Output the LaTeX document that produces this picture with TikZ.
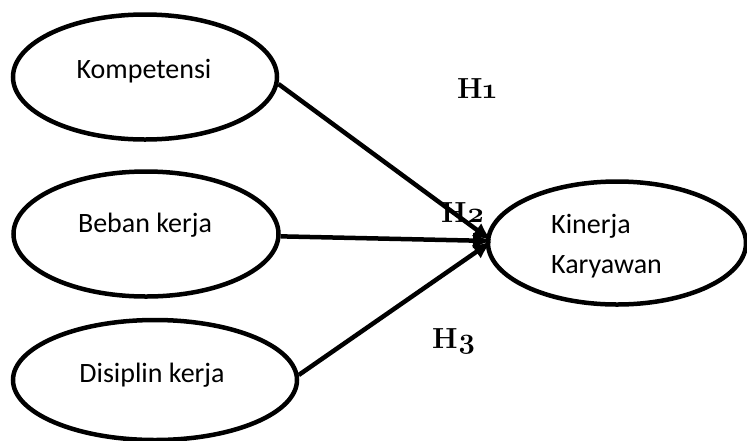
\RequirePackage{fix-cm}
\documentclass[tikz,border=0pt]{standalone}
\usepackage{fontspec}
\setmainfont{Carlito}
\newfontfamily\lmrfont{Latin Modern Roman}
\usetikzlibrary{shapes.geometric,arrows.meta}
\begin{document}
\begin{tikzpicture}[x=1pt,y=-1pt,
  oval/.style={draw=black,line width=4.5pt,ellipse,inner sep=0pt},
  lbl/.style={font=\fontsize{28}{40}\selectfont,inner sep=0pt,anchor=base},
  hyp/.style={font=\fontsize{29}{34}\selectfont\lmrfont\bfseries,inner sep=0pt,anchor=base west},
  conn/.style={line width=4.5pt,-{Latex[length=19pt,width=16pt]}}]
\useasboundingbox (0,0) rectangle (747,440);
\node[oval,minimum width=264pt,minimum height=125pt] (k) at (145,77) {};
\node[oval,minimum width=265pt,minimum height=125pt] (b) at (146,234) {};
\node[oval,minimum width=284pt,minimum height=120pt] (d) at (155,380) {};
\node[oval,minimum width=258pt,minimum height=123pt] (kk) at (617,243) {};
\node[lbl] (tk) at (144,78) {Kompetensi};
\node[lbl] (tb) at (145,232) {Beban kerja};
\node[lbl] (td) at (152,382) {Disiplin kerja};
\node[lbl,anchor=base west] (tkk1) at (551,233) {Kinerja};
\node[lbl,anchor=base west] (tkk2) at (551,273) {Karyawan};
\coordinate (t) at (492,241);
\draw[conn] (k.-3) -- (t);
\draw[conn] (b.-1) -- (t);
\draw[conn] (d.2) -- (t);
\node[hyp] (h1) at (457,98) {H\oldstylenums{1}};
\node[hyp] (h2) at (441,222) {H\oldstylenums{2}};
\node[hyp] (h3) at (432,348) {H\oldstylenums{3}};
\end{tikzpicture}
\end{document}
